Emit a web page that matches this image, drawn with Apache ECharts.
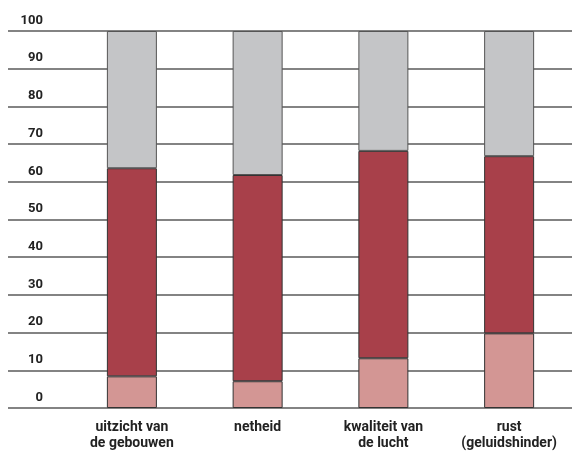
<!DOCTYPE html>
<html>
<head>
<meta charset="utf-8">
<script src="https://cdn.jsdelivr.net/npm/echarts@6/dist/echarts.min.js"></script>
<style>
    html, body { margin: 0; padding: 0; background: #fff; }
    #chart { width: 572px; height: 453px; }
</style>
</head>
<body>
<div id="chart"></div>
<script>
var categories = ['uitzicht van\nde gebouwen', 'netheid', 'kwaliteit van\nde lucht', 'rust\n(geluidshinder)'];
var lowValues = [8.4, 7.1, 13.2, 19.8];
var midValues = [55.2, 54.7, 55.0, 47.0];
var topValues = [36.4, 38.2, 31.8, 33.2];
var tickValues = [0, 10, 20, 30, 40, 50, 60, 70, 80, 90, 100];

(function () {
    'use strict';
    var chart = echarts.init(document.getElementById('chart'));
    var font = 'Roboto, "Liberation Sans", sans-serif';

    function barSeries(name, values, color, border) {
        return {
            name: name,
            type: 'bar',
            stack: 'total',
            xAxisIndex: 0,
            yAxisIndex: 0,
            barWidth: 50,
            itemStyle: { color: color, borderColor: border, borderWidth: 1 },
            emphasis: { disabled: true },
            data: values
        };
    }

    var option = {
        animation: false,
        grid: [
            { left: 69, right: 0, top: 31, bottom: 45 },
            { left: 8, right: 0, top: 31, bottom: 45 }
        ],
        xAxis: [{
            type: 'category',
            gridIndex: 0,
            data: categories,
            axisLine: { show: false },
            axisTick: { show: false },
            axisLabel: {
                interval: 0,
                margin: 11,
                fontFamily: font,
                fontWeight: 'bold',
                fontSize: 14,
                lineHeight: 16,
                color: '#222'
            }
        }, {
            type: 'value',
            gridIndex: 1,
            show: false
        }],
        yAxis: [{
            type: 'value',
            gridIndex: 0,
            min: 0,
            max: 100,
            show: false
        }, {
            type: 'value',
            gridIndex: 1,
            min: 0,
            max: 100,
            interval: 10,
            axisLine: { show: false },
            axisTick: { show: false },
            splitLine: { lineStyle: { color: '#5a5a5a', width: 1.5 } },
            axisLabel: {
                inside: true,
                align: 'right',
                verticalAlign: 'bottom',
                margin: 35,
                padding: [0, 0, 4, 0],
                fontFamily: font,
                fontWeight: 'bold',
                fontSize: 13,
                color: '#222',
                formatter: function (v) {
                    return tickValues.indexOf(v) >= 0 ? String(v) : '';
                }
            }
        }],
        series: [
            barSeries('low', lowValues, '#d39694', '#333'),
            barSeries('mid', midValues, '#a8404a', '#333'),
            barSeries('top', topValues, '#c4c5c7', '#555')
        ]
    };

    chart.setOption(option);
})();
</script>
</body>
</html>
